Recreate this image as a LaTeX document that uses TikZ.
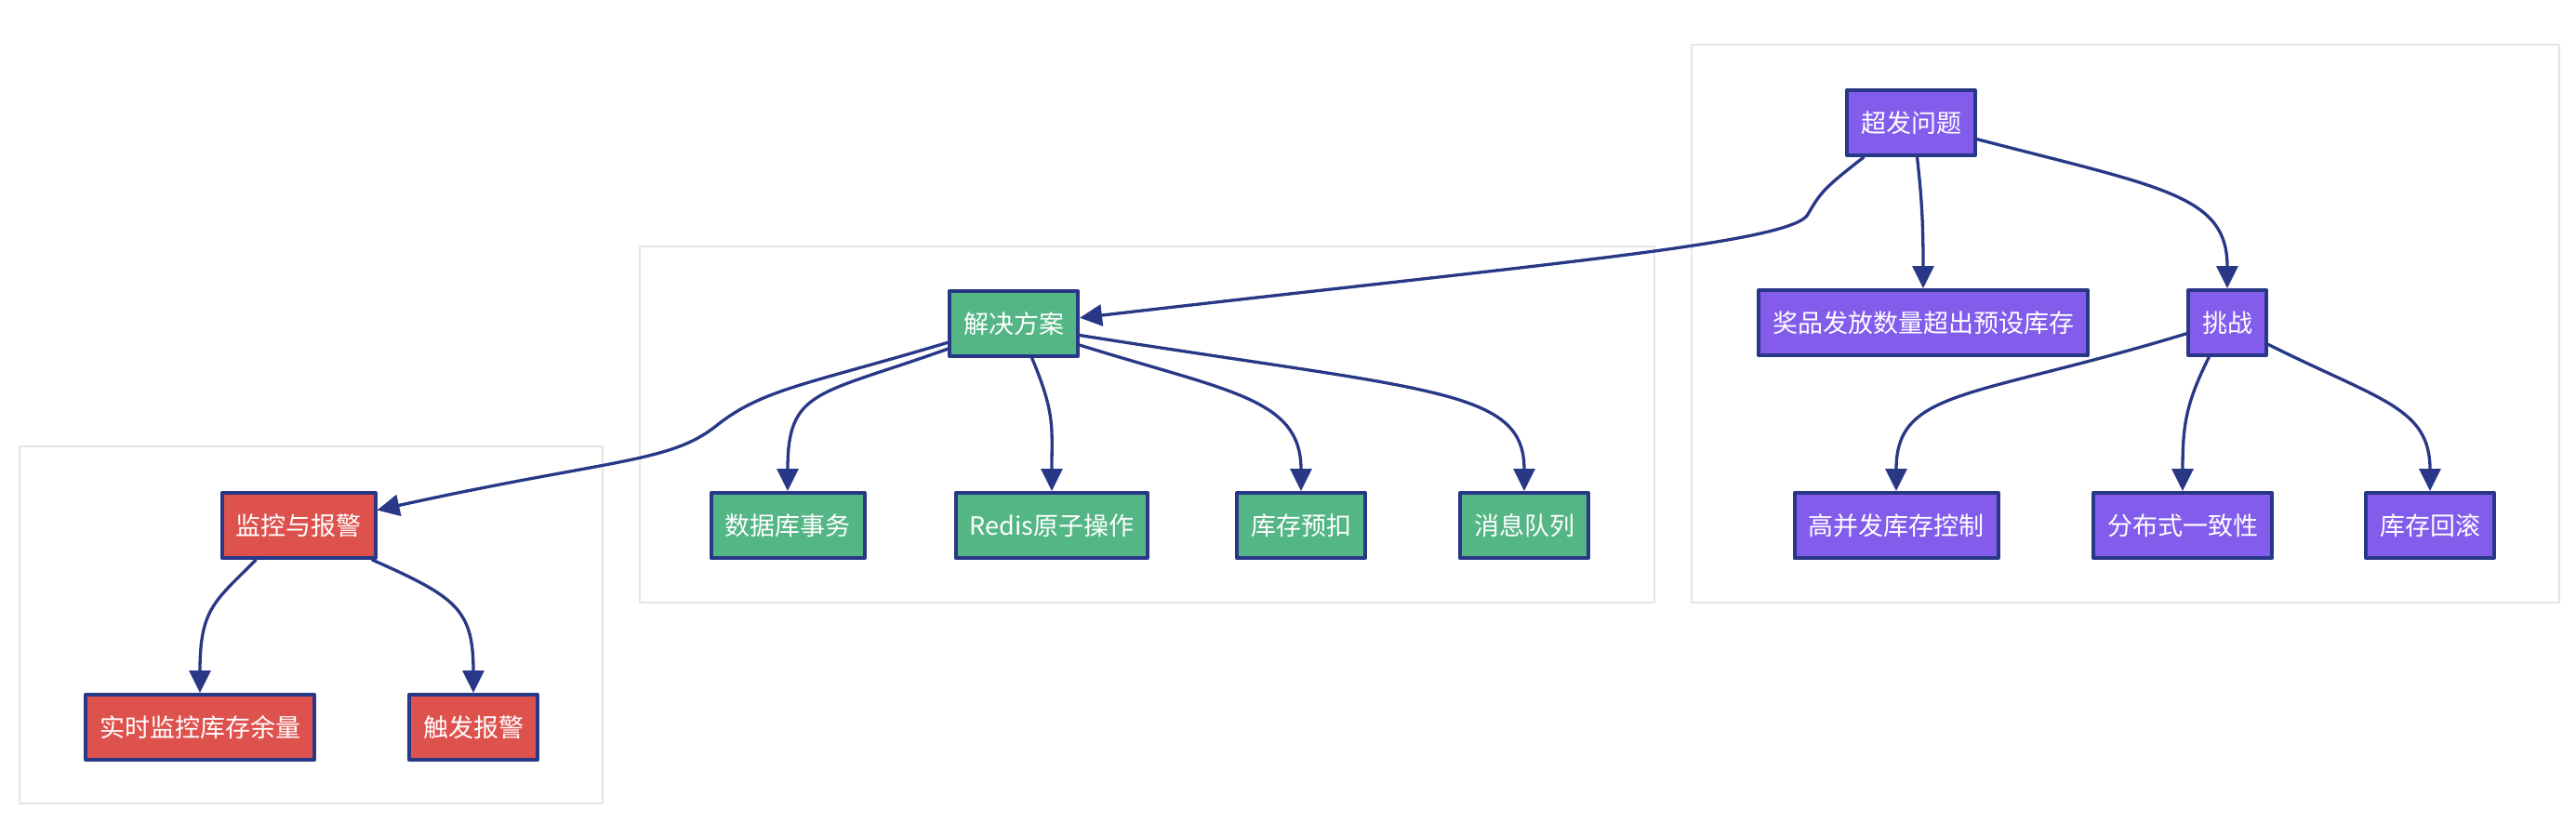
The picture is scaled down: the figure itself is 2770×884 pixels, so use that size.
\documentclass[tikz,border=0pt]{standalone}
\usepackage{fontspec}
\setmainfont{Noto Sans CJK SC}
\usepackage{tikz}
\usetikzlibrary{arrows.meta}

\definecolor{probfill}{RGB}{131,92,236}
\definecolor{solfill}{RGB}{84,182,133}
\definecolor{monfill}{RGB}{222,82,78}
\definecolor{navy}{RGB}{40,56,134}
\definecolor{clustergray}{RGB}{228,228,228}

\begin{document}
\begin{tikzpicture}[
						x=1pt, y=-1pt,
						every node/.style={font=\fontsize{27}{32}\selectfont, text=white},
						box/.style={draw=navy, line width=4pt, minimum height=70pt, inner xsep=15pt, inner ysep=0pt},
						prob/.style={box, fill=probfill},
						sol/.style={box, fill=solfill},
						mon/.style={box, fill=monfill},
						edge/.style={draw=navy, line width=3.3pt, -{Triangle[length=24pt,width=23pt]}},
						cluster/.style={draw=clustergray, line width=2pt, fill=white},
						line cap=round,
						line join=round
						]
						
						\useasboundingbox (0,0) rectangle (2770,884);
						
						% Cluster frames
						\draw[cluster] (1819,48) rectangle (2752,648);
						\draw[cluster] (688,265) rectangle (1779,648);
						\draw[cluster] (21,480) rectangle (648,864);
						
						% Problem
						\node[prob] (issue) at (2055,132) {超发问题};
						\node[prob] (issuedesc) at (2068,347) {奖品发放数量超出预设库存};
						\node[prob] (challenge) at (2395,347) {挑战};
						\node[prob] (highconc) at (2039,565) {高并发库存控制};
						\node[prob] (consist) at (2347,565) {分布式一致性};
						\node[prob] (rollback) at (2613,565) {库存回滚};
						
						% Solutions
						\node[sol] (solution) at (1090,348) {解决方案};
						\node[sol] (dbtx) at (847,565) {数据库事务};
						\node[sol] (redis) at (1131,565) {Redis原子操作};
						\node[sol] (prededuct) at (1399,565) {库存预扣};
						\node[sol] (mqueue) at (1639,565) {消息队列};
						
						% Monitoring
						\node[mon] (monitor) at (321,565) {监控与报警};
						\node[mon] (realtime) at (215,782) {实时监控库存余量};
						\node[mon] (trigger) at (509,782) {触发报警};
						
						% Bend points
						\coordinate (issuebend) at (1943,232);
						\coordinate (solbend) at (770,458);
						
						% Connectors
						\draw[edge] (issue.216) .. controls +(-45,35) and +(15,-25) .. (issuebend)
							.. controls +(-25,30) and +(500,-58) .. (solution.5);
						\draw[edge] (issue.-80) .. controls +(5,45) and +(0,-70) .. (issuedesc.north);
						\draw[edge] (issue.-14) .. controls +(200,52) and +(0,-100) .. (challenge.north);
						
						\draw[edge] (challenge.195) .. controls +(-230,70) and +(0,-110) .. (highconc.north);
						\draw[edge] (challenge.-118) .. controls +(-25,50) and +(0,-70) .. (consist.north);
						\draw[edge] (challenge.-28) .. controls +(120,60) and +(0,-90) .. (rollback.north);
						
						\draw[edge] (solution.196) .. controls +(-150,45) and +(50,-40) .. (solbend)
							.. controls +(-50,40) and +(250,-55) .. (monitor.11);
						\draw[edge] (solution.201) .. controls +(-140,50) and +(0,-110) .. (dbtx.north);
						\draw[edge] (solution.-62) .. controls +(25,60) and +(0,-70) .. (redis.north);
						\draw[edge] (solution.-18) .. controls +(160,50) and +(0,-100) .. (prededuct.north);
						\draw[edge] (solution.-10) .. controls +(380,60) and +(0,-110) .. (mqueue.north);
						
						\draw[edge] (monitor.219) .. controls +(-45,45) and +(0,-90) .. (realtime.north);
						\draw[edge] (monitor.-25) .. controls +(90,40) and +(0,-90) .. (trigger.north);
						
					\end{tikzpicture}
\end{document}
